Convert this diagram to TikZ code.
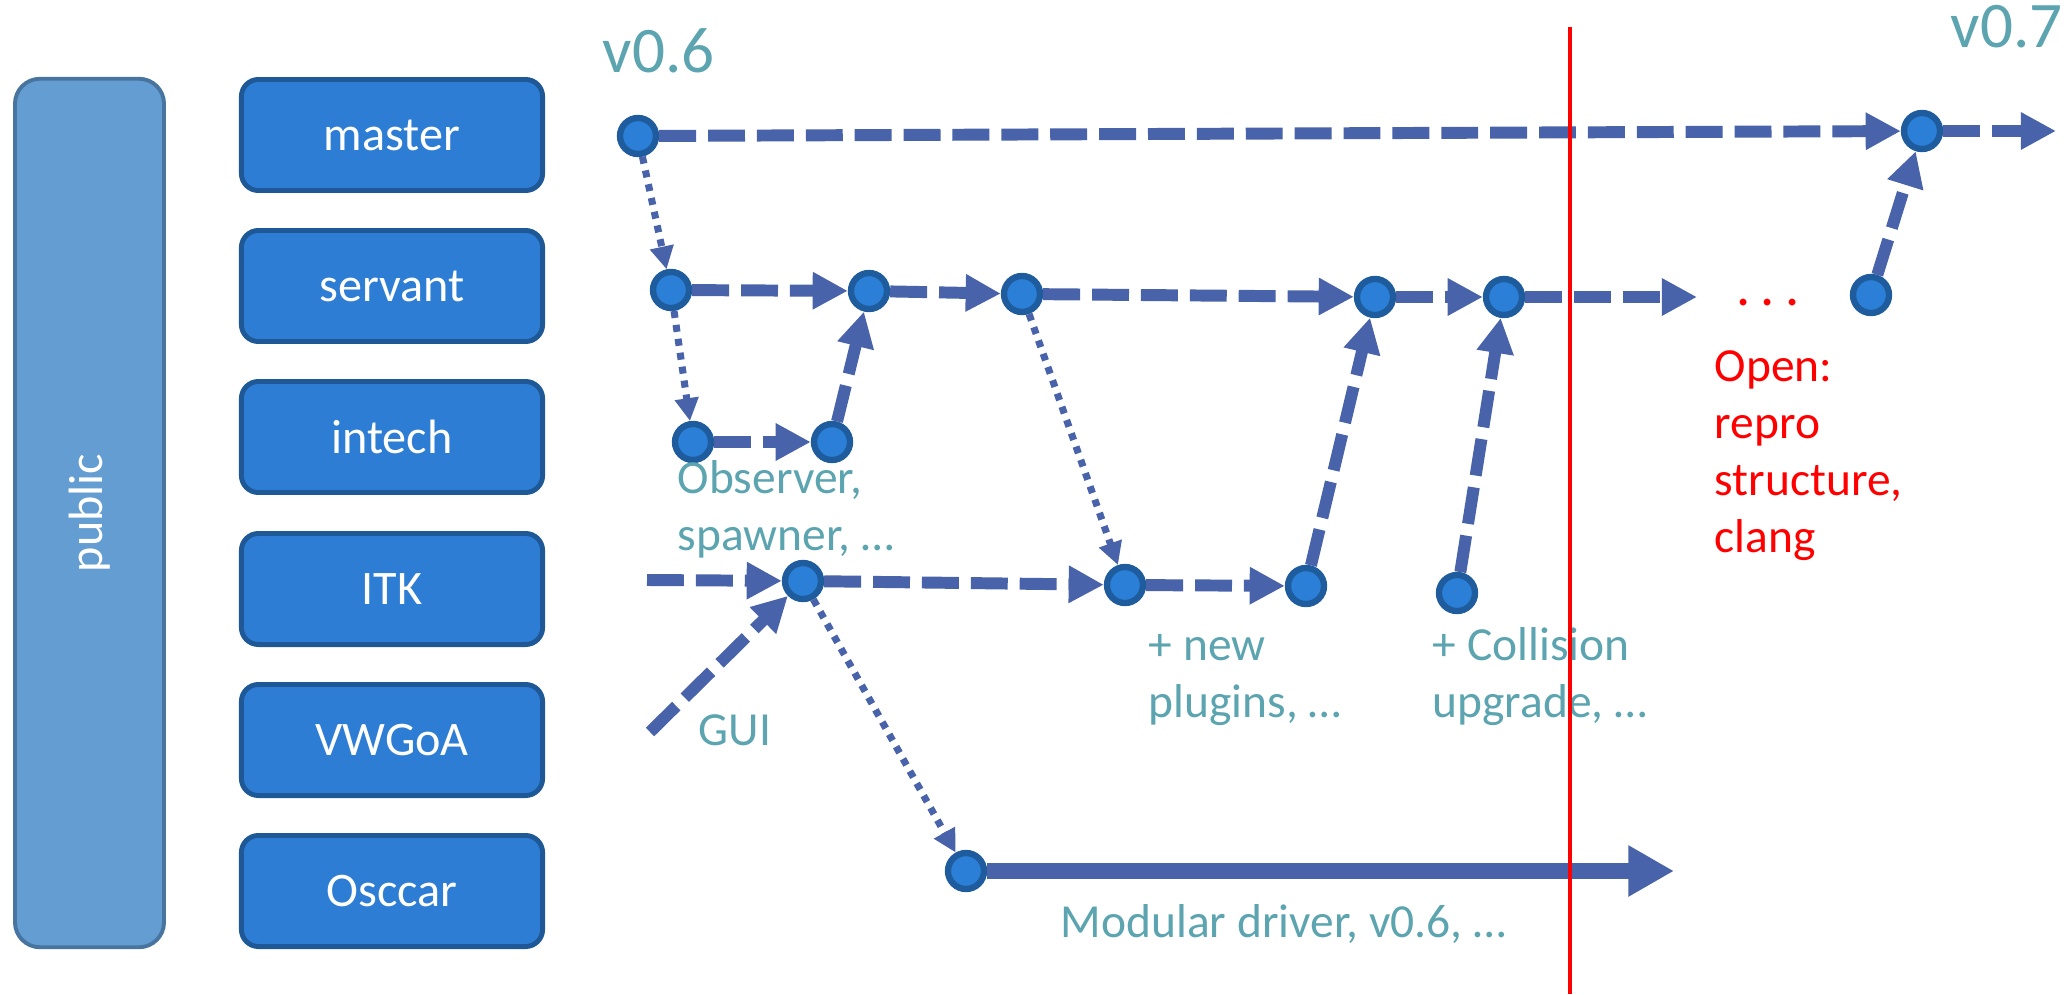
\documentclass[tikz,border=0pt]{standalone}
\usepackage{fontspec}
\setmainfont{Carlito}
\usetikzlibrary{arrows.meta}
\definecolor{flowblue}{RGB}{72,99,170}
\definecolor{commitblue}{RGB}{43,127,214}
\definecolor{commitrim}{RGB}{30,92,158}
\definecolor{branchblue}{RGB}{45,125,212}
\definecolor{branchrim}{RGB}{31,88,150}
\definecolor{publicblue}{RGB}{99,157,209}
\definecolor{publicrim}{RGB}{72,116,160}
\definecolor{noteteal}{RGB}{91,164,176}

\begin{document}
\begin{tikzpicture}[x=0.01cm, y=-0.01cm,
	branch/.style={draw=branchrim, fill=branchblue, line width=1.4pt, rounded corners=0.17cm,
		minimum width=3.01cm, minimum height=1.11cm, text=white, font=\fontsize{13.7}{16}\selectfont},
	commit/.style={circle, draw=commitrim, fill=commitblue, line width=1.8pt, minimum size=0.36cm, inner sep=0pt},
	note/.style={text=noteteal, font=\fontsize{13.5}{16.2}\selectfont, align=left, inner sep=0pt, anchor=base west},
	version/.style={text=noteteal, font=\fontsize{18.5}{22}\selectfont, inner sep=0pt, anchor=base west},
	merge/.style={draw=flowblue, line width=3.4pt, dash pattern=on 10.5pt off 3.4pt,
		-{Triangle[length=10pt, width=10pt]}},
	fork/.style={draw=flowblue, line width=2pt, dash pattern=on 2pt off 2pt,
		-{Triangle[length=6.5pt, width=6.5pt]}},
	release/.style={draw=flowblue, line width=4.3pt, -{Triangle[length=13pt, width=13.7pt]}}]
	\useasboundingbox (0,0) rectangle (2067,994);

	\node[draw=publicrim, fill=publicblue, line width=1.1pt, rounded corners=0.25cm, rotate=90,
		minimum width=8.68cm, minimum height=1.49cm, text=white, font=\fontsize{13.7}{16}\selectfont]
		(public) at (89.5,513) {public};
	\node[branch] (master) at (392,135) {master};
	\node[branch] (servant) at (392,286) {servant};
	\node[branch] (intech) at (392,437) {intech};
	\node[branch] (itk) at (392,589) {ITK};
	\node[branch] (vwgoa) at (392,740) {VWGoA};
	\node[branch] (osccar) at (392,891) {Osccar};

	\node[commit] (m0) at (638,136) {};
	\node[commit] (m1) at (1922,131) {};
	\node[commit] (s1) at (671,290) {};
	\node[commit] (s2) at (869,291) {};
	\node[commit] (s3) at (1022,294) {};
	\node[commit] (s4) at (1375,297) {};
	\node[commit] (s5) at (1504,297) {};
	\node[commit] (s6) at (1871,295) {};
	\node[commit] (i1) at (693,442) {};
	\node[commit] (i2) at (832,442) {};
	\node[commit] (t1) at (803,581) {};
	\node[commit] (t2) at (1125,585) {};
	\node[commit] (t3) at (1306,586) {};
	\node[commit] (t4) at (1457,593) {};
	\node[commit] (o1) at (966,871) {};

	\coordinate (mstend) at (2056,131);
	\coordinate (srvend) at (1697,297);
	\coordinate (itkin) at (647,580);
	\coordinate (guiin) at (650,732);
	\coordinate (oscend) at (1674,871);

	\node[version] (v06) at (602,73) {v0.6};
	\node[version] (v07) at (1950,48) {v0.7};
	\node[note] (observer) at (677,550) {Observer,\\spawner, …};
	\node[note] (plugins) at (1148,717) {+ new\\plugins, …};
	\node[note] (collision) at (1432,717) {+ Collision\\upgrade, …};
	\node[note] (gui) at (698,745) {GUI};
	\node[note] (driver) at (1060,937) {Modular driver, v0.6, …};
	\node[note, text=red] (open) at (1714,552) {Open:\\repro\\structure,\\clang};
	\node[text=red, font=\fontsize{16}{19}\selectfont, inner sep=0pt, anchor=base west]
		(more) at (1736,305) {.\kern2.85pt.\kern2.85pt.};

	\draw[merge] (m0) -- (m1);
	\draw[merge] (m1) -- (mstend);
	\draw[fork] (m0) -- (s1);
	\draw[merge] (s1) -- (s2);
	\draw[merge] (s2) -- (s3);
	\draw[merge] (s3) -- (s4);
	\draw[merge] (s4) -- (s5);
	\draw[merge] (s5) -- (srvend);
	\draw[fork] (s1) -- (i1);
	\draw[merge] (i1) -- (i2);
	\draw[merge] (i2) -- (s2);
	\draw[fork] (s3) -- (t2);
	\draw[merge] (itkin) -- (t1);
	\draw[merge] (guiin) -- (t1);
	\draw[merge] (t1) -- (t2);
	\draw[merge] (t2) -- (t3);
	\draw[merge] (t3) -- (s4);
	\draw[merge] (t4) -- (s5);
	\draw[merge] (s6) -- (m1);
	\draw[fork] (t1) -- (o1);
	\draw[release] (o1) -- (oscend);

	\draw[red, line width=1.4pt] (1570,27) -- (1570,994);
\end{tikzpicture}
\end{document}
